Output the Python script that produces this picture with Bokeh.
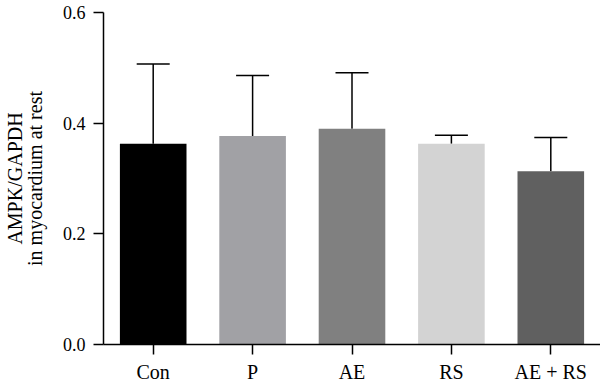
from bokeh.plotting import figure
from bokeh.models import ColumnDataSource, FactorRange, Range1d, FixedTicker, NumeralTickFormatter, Whisker, TeeHead
from bokeh.embed import file_html
from bokeh.resources import INLINE

groups = ["Con", "P", "AE", "RS", "AE + RS"]
means = [0.363, 0.377, 0.390, 0.363, 0.313]
upper = [0.507, 0.486, 0.491, 0.378, 0.374]
colors = ["#000000", "#a1a1a5", "#808080", "#d3d3d3", "#606060"]
yticks = [0.0, 0.2, 0.4, 0.6]

src = ColumnDataSource(dict(x=groups, top=means, upper=upper, color=colors))

p = figure(width=600, height=385, output_backend="svg", toolbar_location=None,
           x_range=FactorRange(*groups, range_padding=0), y_range=Range1d(0, 0.6),
           min_border_left=100, min_border_right=0, min_border_top=12, min_border_bottom=41)
p.outline_line_color = None
p.xgrid.grid_line_color = None
p.ygrid.grid_line_color = None
p.background_fill_color = "white"
p.border_fill_color = "white"

whisk = Whisker(source=src, base="x", upper="upper", lower="top",
                line_color="black", line_width=1.5,
                upper_head=TeeHead(size=33, line_color="black", line_width=1.5),
                lower_head=None, level="underlay")
p.add_layout(whisk)
p.vbar(x="x", top="top", width=0.67, source=src, fill_color="color", line_color=None)

font = "Liberation Serif"
p.yaxis.ticker = FixedTicker(ticks=yticks)
p.yaxis.formatter = NumeralTickFormatter(format="0.0")
p.yaxis.axis_label = "AMPK/GAPDH\nin myocardium at rest"
p.yaxis.axis_label_text_font = font
p.yaxis.axis_label_text_font_size = "20px"
p.yaxis.axis_label_text_font_style = "normal"
p.yaxis.axis_label_text_align = "center"
p.yaxis.axis_label_text_line_height = 0.92
p.yaxis.axis_label_standoff = 14

for ax in (p.xaxis[0], p.yaxis[0]):
    ax.axis_line_color = "black"
    ax.axis_line_width = 1.5
    ax.major_tick_line_color = "black"
    ax.major_tick_line_width = 1.5
    ax.major_tick_out = 10
    ax.major_tick_in = 0
    ax.minor_tick_line_color = None
    ax.major_label_text_font = font
    ax.major_label_text_color = "black"
    ax.axis_label_text_color = "black"

p.yaxis.major_label_text_font_size = "18px"
p.yaxis.major_label_standoff = 8
p.xaxis.major_label_text_font_size = "20px"
p.xaxis.major_label_standoff = 6

open("out.html", "w").write(file_html(p, INLINE))
